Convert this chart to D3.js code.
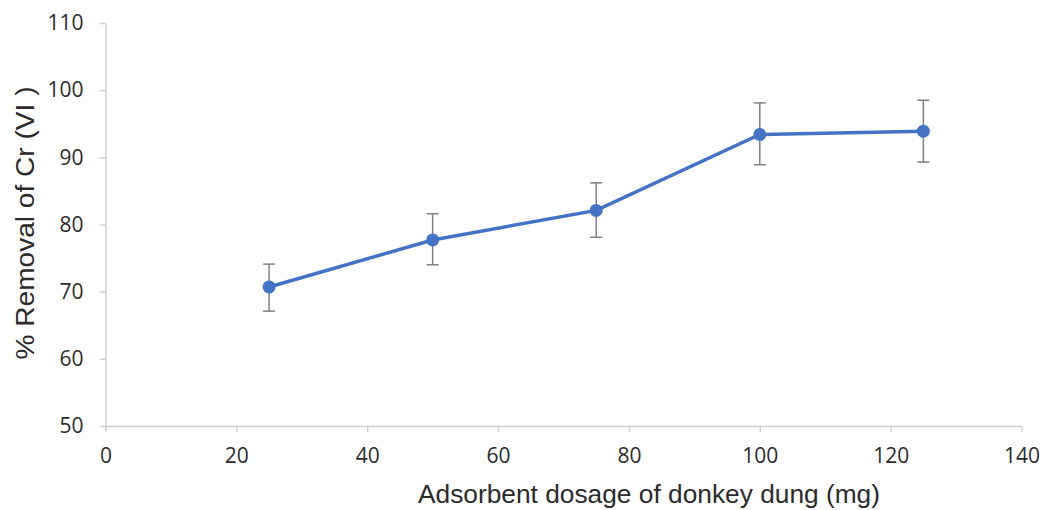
<!DOCTYPE html>
<html><head><meta charset="utf-8">
<script src="https://cdn.jsdelivr.net/npm/d3@7"></script>
<style>body{margin:0;background:#fff}</style>
</head><body>
<svg id="c" width="1043" height="510"></svg>
<script>
const dosage = [25, 50, 75, 100, 125];
const removal = [70.7, 77.7, 82.1, 93.4, 93.9];
const errUp = [3.4, 3.9, 4.1, 4.7, 4.6];
const errDown = [3.6, 3.7, 4.0, 4.5, 4.6];
const xTicks = [0, 20, 40, 60, 80, 100, 120, 140];
const yTicks = [50, 60, 70, 80, 90, 100, 110];

const svg = d3.select("#c");
const x = d3.scaleLinear().domain([0, 140]).range([105.5, 1021.5]);
const y = d3.scaleLinear().domain([50, 110]).range([426, 23]);
const axisCol = "#d0d0d0", txtCol = "#2b2b2b";

const xa = svg.append("g").attr("transform", "translate(0,426)")
  .call(d3.axisBottom(x).tickValues(xTicks).tickSize(6).tickPadding(16).tickSizeOuter(0));
const ya = svg.append("g").attr("transform", "translate(105.5,0)")
  .call(d3.axisLeft(y).tickValues(yTicks).tickSize(6).tickPadding(16).tickSizeOuter(0));
[xa, ya].forEach(a => {
  a.selectAll("path,line").attr("stroke", axisCol).attr("stroke-width", 1.5);
  a.selectAll("text").attr("fill", txtCol).style("font-family", "'Open Sans', sans-serif").style("font-size", "21px");
});

const g = svg.append("g");
dosage.forEach((d, i) => {
  const cx = x(d), t = y(removal[i] + errUp[i]), b = y(removal[i] - errDown[i]);
  g.append("line").attr("x1", cx).attr("x2", cx).attr("y1", t).attr("y2", b).attr("stroke", "#808080").attr("stroke-width", 1.5);
  [t, b].forEach(yy => g.append("line").attr("x1", cx - 6).attr("x2", cx + 6).attr("y1", yy).attr("y2", yy).attr("stroke", "#808080").attr("stroke-width", 1.5));
});
g.append("path").datum(dosage.map((d, i) => [d, removal[i]]))
  .attr("d", d3.line().x(p => x(p[0])).y(p => y(p[1])))
  .attr("fill", "none").attr("stroke", "#4472C4").attr("stroke-width", 3.5);
g.selectAll("circle").data(dosage).join("circle")
  .attr("cx", d => x(d)).attr("cy", (d, i) => y(removal[i])).attr("r", 6.5).attr("fill", "#4472C4");

svg.append("text").attr("x", 649).attr("y", 503).attr("text-anchor", "middle")
  .attr("fill", txtCol).style("font-family", "'Liberation Sans', Arial, sans-serif").style("font-size", "25px")
  .attr("textLength", 462).attr("lengthAdjust", "spacingAndGlyphs")
  .text("Adsorbent dosage of donkey dung (mg)");
svg.append("text").attr("transform", "translate(34,223) rotate(-90)").attr("text-anchor", "middle")
  .attr("fill", txtCol).style("font-family", "'Liberation Sans', Arial, sans-serif").style("font-size", "26px")
  .attr("textLength", 273).attr("lengthAdjust", "spacingAndGlyphs")
  .text("% Removal of Cr (VI )");
</script>
</body></html>
